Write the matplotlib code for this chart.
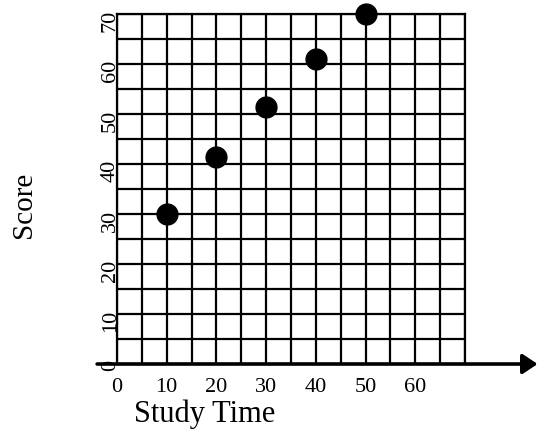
import numpy as np
import matplotlib.pyplot as plt
import matplotlib.transforms as mtransforms

plt.rcParams['font.family'] = ['Liberation Serif', 'DejaVu Serif']

# data
study_time = [10, 20, 30, 40, 50]
score = [30, 41.5, 51.5, 61, 70]
x_ticks = [0, 10, 20, 30, 40, 50, 60]
y_ticks = [0, 10, 20, 30, 40, 50, 60, 70]

fig = plt.figure(figsize=(5.4, 4.31), dpi=100)
ax = fig.add_axes([0.2167, 0.1531, 0.6444, 0.8121])

ax.set_xlim(0, 70)
ax.set_ylim(0, 70)

# 5-unit grid
ax.set_xticks(np.arange(0, 71, 5), minor=True)
ax.set_yticks(np.arange(0, 71, 5), minor=True)
ax.grid(which='both', color='black', lw=1.6)
ax.set_axisbelow(True)

ax.set_xticks(x_ticks)
ax.set_xticklabels([str(v) for v in x_ticks])
ax.set_yticks(y_ticks)
ax.set_yticklabels([str(v) for v in y_ticks])
ax.tick_params(which='both', length=0)
ax.tick_params(which='major', labelsize=16)
ax.tick_params(axis='x', pad=9)
ax.tick_params(axis='y', labelrotation=90, pad=-2)

# y labels sit a little below their grid lines
shift = mtransforms.ScaledTranslation(0, -1.5 / 72, fig.dpi_scale_trans)
for lbl in ax.get_yticklabels():
    lbl.set_transform(lbl.get_transform() + shift)

for side in ['left', 'top', 'right']:
    ax.spines[side].set_linewidth(1.6)
ax.spines['bottom'].set_visible(False)

# thick x axis with arrow head
ax.annotate('', xy=(84.6, 0), xytext=(-4, 0),
            arrowprops=dict(arrowstyle='-|>,head_length=0.45,head_width=0.3',
                            lw=2.6, color='black', shrinkA=0, shrinkB=0,
                            mutation_scale=20),
            annotation_clip=False)

ax.plot(study_time, score, 'o', color='black', markersize=15,
        clip_on=False, zorder=5)

ax.set_xlabel('Study Time', fontsize=22)
ax.xaxis.label.set_va('baseline')
ax.xaxis.set_label_coords(0.253, -0.163)
ax.set_ylabel('Score', fontsize=21)
ax.yaxis.label.set_va('center')
ax.yaxis.set_label_coords(-0.267, 0.457)

fig.savefig('out.png', dpi=100)
